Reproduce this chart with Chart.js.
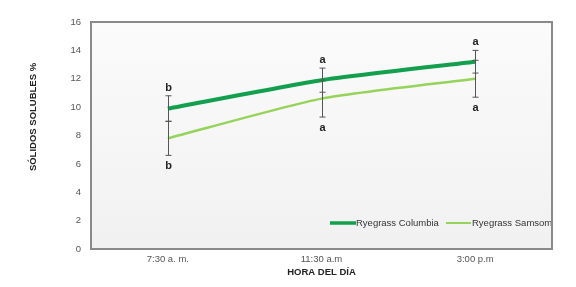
<!DOCTYPE html>
<html>
<head>
<meta charset="utf-8">
<script src="https://cdn.jsdelivr.net/npm/chart.js@4.4.1/dist/chart.umd.min.js"></script>
<style>
  html, body { margin: 0; padding: 0; background: #fff; }
  #wrap { width: 576px; height: 287px; position: relative; }
</style>
</head>
<body>
<div id="wrap"><canvas id="solidosChart" width="576" height="287"></canvas></div>
<script>
const horas = ['7:30 a. m.', '11:30 a.m', '3:00 p.m'];
const columbia = [9.9, 11.9, 13.2];
const samsom = [7.8, 10.6, 12.0];
const columbiaErr = [0.9, 0.85, 0.8];
const samsomErr = [1.2, 1.3, 1.3];
const letraArriba = ['b', 'a', 'a'];
const letraAbajo = ['b', 'a', 'a'];

const FONT = 'Arial, "Liberation Sans", sans-serif';

// background gradient + error bars + letters + legend + y title
const extras = {
    id: 'extras',
    beforeDatasetsDraw(chart) {
        const { ctx, chartArea: a } = chart;
        const g = ctx.createLinearGradient(0, a.top, 0, a.bottom);
        g.addColorStop(0, '#fbfbfb');
        g.addColorStop(1, '#f1f1f1');
        ctx.save();
        ctx.fillStyle = g;
        ctx.fillRect(a.left, a.top, a.right - a.left, a.bottom - a.top);
        ctx.restore();
    },
    afterDatasetsDraw(chart) {
        const { ctx, chartArea: a } = chart;
        const x = chart.scales.x, y = chart.scales.y;
        ctx.save();
        ctx.strokeStyle = '#555';
        ctx.lineWidth = 1;
        const cap = (px, py) => {
            ctx.beginPath();
            ctx.moveTo(px - 3, py); ctx.lineTo(px + 3, py);
            ctx.stroke();
        };
        horas.forEach((h, i) => {
            const px = Math.round(x.getPixelForValue(i)) + 0.5;
            const top = y.getPixelForValue(columbia[i] + columbiaErr[i]);
            const mid1 = y.getPixelForValue(columbia[i] - columbiaErr[i]);
            const mid2 = y.getPixelForValue(samsom[i] + samsomErr[i]);
            const bot = y.getPixelForValue(samsom[i] - samsomErr[i]);
            ctx.beginPath();
            ctx.moveTo(px, top); ctx.lineTo(px, bot);
            ctx.stroke();
            cap(px, top); cap(px, mid1); cap(px, mid2); cap(px, bot);
            ctx.fillStyle = '#222';
            ctx.font = 'bold 11px ' + FONT;
            ctx.textAlign = 'center';
            ctx.textBaseline = 'middle';
            ctx.fillText(letraArriba[i], px, top - 8);
            ctx.fillText(letraAbajo[i], px, bot + 11);
        });

        // legend inside plot, bottom right
        const ly = a.bottom - 26;
        const lx = a.right - 222;
        ctx.font = '9.5px ' + FONT;
        ctx.textAlign = 'left';
        ctx.fillStyle = '#333';
        ctx.lineWidth = 3.5;
        ctx.strokeStyle = '#13a04e';
        ctx.beginPath(); ctx.moveTo(lx, ly); ctx.lineTo(lx + 26, ly); ctx.stroke();
        ctx.fillText('Ryegrass Columbia', lx + 26, ly);
        ctx.lineWidth = 2;
        ctx.strokeStyle = '#95d35a';
        ctx.beginPath(); ctx.moveTo(lx + 116, ly); ctx.lineTo(lx + 141, ly); ctx.stroke();
        ctx.fillText('Ryegrass Samsom', lx + 142, ly);

        // plot frame
        ctx.strokeStyle = '#8a8a8a';
        ctx.lineWidth = 2;
        ctx.strokeRect(a.left, a.top, a.right - a.left, a.bottom - a.top);

        // y axis title (sits a bit above the plot's centre in the original)
        ctx.translate(33, 117);
        ctx.rotate(-Math.PI / 2);
        ctx.textAlign = 'center';
        ctx.textBaseline = 'middle';
        ctx.fillStyle = '#222';
        ctx.font = 'bold 9.5px ' + FONT;
        ctx.fillText('SÓLIDOS SOLUBLES %', 0, 0);
        ctx.restore();
    }
};

new Chart(document.getElementById('solidosChart'), {
    type: 'line',
    data: {
        labels: horas,
        datasets: [
            {
                label: 'Ryegrass Columbia',
                data: columbia,
                borderColor: '#13a04e',
                borderWidth: 4,
                pointRadius: 0,
                tension: 0.2
            },
            {
                label: 'Ryegrass Samsom',
                data: samsom,
                borderColor: '#95d35a',
                borderWidth: 2.5,
                pointRadius: 0,
                tension: 0.2
            }
        ]
    },
    options: {
        responsive: false,
        animation: false,
        devicePixelRatio: 1,
        layout: { padding: { left: 0, right: 24, top: 22, bottom: 9 } },
        plugins: {
            legend: { display: false },
            tooltip: { enabled: false }
        },
        scales: {
            x: {
                offset: true,
                grid: { display: false, drawTicks: false },
                border: { display: false },
                ticks: { color: '#555', font: { family: FONT, size: 9.5 }, padding: 5 },
                title: {
                    display: true,
                    text: 'HORA DEL DÍA',
                    color: '#222',
                    font: { family: FONT, size: 9.5, weight: 'bold' },
                    padding: { top: 2, bottom: 0 }
                },
                afterFit(scale) { scale.height = 29; }
            },
            y: {
                min: 0,
                max: 16,
                grid: { display: false, drawTicks: false },
                border: { display: false },
                ticks: { stepSize: 2, color: '#555', font: { family: FONT, size: 9.5 }, padding: 10 },
                title: { display: false },
                afterFit(scale) { scale.width = 91; }
            }
        }
    },
    plugins: [extras]
});
</script>
</body>
</html>
